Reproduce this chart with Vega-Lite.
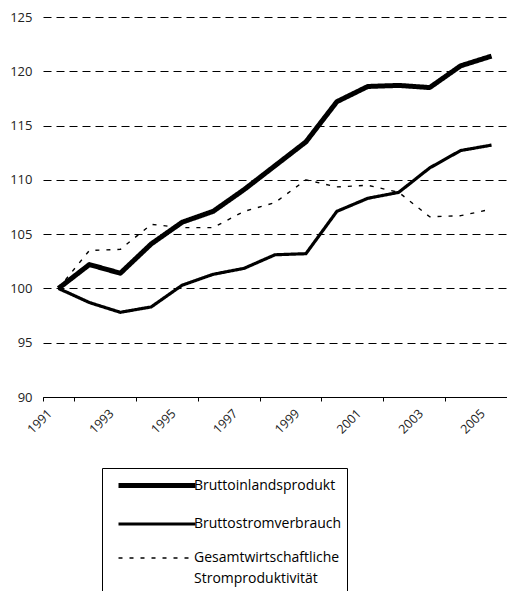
{
  "$schema": "https://vega.github.io/schema/vega-lite/v6.json",
  "autosize": {"type": "none"},
  "padding": {"left": 43, "top": 17, "right": 0, "bottom": 194},
  "width": 464,
  "height": 380,
  "background": "white",
  "config": {
    "view": {"stroke": null},
    "font": "Open Sans",
    "axis": {"labelFont": "Open Sans", "labelColor": "#222", "labelFontSize": 13},
    "legend": {
      "title": null,
      "orient": "none",
      "legendX": 59,
      "legendY": 451,
      "direction": "vertical",
      "strokeColor": "black",
      "fillColor": "white",
      "padding": 5,
      "symbolType": "M-0.1,0H7.6",
      "symbolSize": 400,
      "symbolStrokeColor": "black",
      "symbolFillColor": "transparent",
      "labelFont": "Open Sans",
      "labelFontSize": 14,
      "labelColor": "black",
      "labelOffset": 62,
      "rowPadding": 16
    }
  },
  "data": {
    "values": [
      {"Jahr": "1991", "Reihe": "Bruttoinlandsprodukt", "Wert": 100},
      {"Jahr": "1992", "Reihe": "Bruttoinlandsprodukt", "Wert": 102.2},
      {"Jahr": "1993", "Reihe": "Bruttoinlandsprodukt", "Wert": 101.4},
      {"Jahr": "1994", "Reihe": "Bruttoinlandsprodukt", "Wert": 104.1},
      {"Jahr": "1995", "Reihe": "Bruttoinlandsprodukt", "Wert": 106.1},
      {"Jahr": "1996", "Reihe": "Bruttoinlandsprodukt", "Wert": 107.1},
      {"Jahr": "1997", "Reihe": "Bruttoinlandsprodukt", "Wert": 109.1},
      {"Jahr": "1998", "Reihe": "Bruttoinlandsprodukt", "Wert": 111.3},
      {"Jahr": "1999", "Reihe": "Bruttoinlandsprodukt", "Wert": 113.5},
      {"Jahr": "2000", "Reihe": "Bruttoinlandsprodukt", "Wert": 117.2},
      {"Jahr": "2001", "Reihe": "Bruttoinlandsprodukt", "Wert": 118.6},
      {"Jahr": "2002", "Reihe": "Bruttoinlandsprodukt", "Wert": 118.7},
      {"Jahr": "2003", "Reihe": "Bruttoinlandsprodukt", "Wert": 118.5},
      {"Jahr": "2004", "Reihe": "Bruttoinlandsprodukt", "Wert": 120.5},
      {"Jahr": "2005", "Reihe": "Bruttoinlandsprodukt", "Wert": 121.4},
      {"Jahr": "1991", "Reihe": "Bruttostromverbrauch", "Wert": 100},
      {"Jahr": "1992", "Reihe": "Bruttostromverbrauch", "Wert": 98.7},
      {"Jahr": "1993", "Reihe": "Bruttostromverbrauch", "Wert": 97.8},
      {"Jahr": "1994", "Reihe": "Bruttostromverbrauch", "Wert": 98.3},
      {"Jahr": "1995", "Reihe": "Bruttostromverbrauch", "Wert": 100.3},
      {"Jahr": "1996", "Reihe": "Bruttostromverbrauch", "Wert": 101.3},
      {"Jahr": "1997", "Reihe": "Bruttostromverbrauch", "Wert": 101.85},
      {"Jahr": "1998", "Reihe": "Bruttostromverbrauch", "Wert": 103.1},
      {"Jahr": "1999", "Reihe": "Bruttostromverbrauch", "Wert": 103.2},
      {"Jahr": "2000", "Reihe": "Bruttostromverbrauch", "Wert": 107.1},
      {"Jahr": "2001", "Reihe": "Bruttostromverbrauch", "Wert": 108.3},
      {"Jahr": "2002", "Reihe": "Bruttostromverbrauch", "Wert": 108.85},
      {"Jahr": "2003", "Reihe": "Bruttostromverbrauch", "Wert": 111.1},
      {"Jahr": "2004", "Reihe": "Bruttostromverbrauch", "Wert": 112.7},
      {"Jahr": "2005", "Reihe": "Bruttostromverbrauch", "Wert": 113.2},
      {"Jahr": "1991", "Reihe": "Gesamtwirtschaftliche Stromproduktivität", "Wert": 100},
      {"Jahr": "1992", "Reihe": "Gesamtwirtschaftliche Stromproduktivität", "Wert": 103.5},
      {"Jahr": "1993", "Reihe": "Gesamtwirtschaftliche Stromproduktivität", "Wert": 103.6},
      {"Jahr": "1994", "Reihe": "Gesamtwirtschaftliche Stromproduktivität", "Wert": 105.9},
      {"Jahr": "1995", "Reihe": "Gesamtwirtschaftliche Stromproduktivität", "Wert": 105.6},
      {"Jahr": "1996", "Reihe": "Gesamtwirtschaftliche Stromproduktivität", "Wert": 105.6},
      {"Jahr": "1997", "Reihe": "Gesamtwirtschaftliche Stromproduktivität", "Wert": 107.1},
      {"Jahr": "1998", "Reihe": "Gesamtwirtschaftliche Stromproduktivität", "Wert": 107.9},
      {"Jahr": "1999", "Reihe": "Gesamtwirtschaftliche Stromproduktivität", "Wert": 110.0},
      {"Jahr": "2000", "Reihe": "Gesamtwirtschaftliche Stromproduktivität", "Wert": 109.35},
      {"Jahr": "2001", "Reihe": "Gesamtwirtschaftliche Stromproduktivität", "Wert": 109.5},
      {"Jahr": "2002", "Reihe": "Gesamtwirtschaftliche Stromproduktivität", "Wert": 108.85},
      {"Jahr": "2003", "Reihe": "Gesamtwirtschaftliche Stromproduktivität", "Wert": 106.6},
      {"Jahr": "2004", "Reihe": "Gesamtwirtschaftliche Stromproduktivität", "Wert": 106.7},
      {"Jahr": "2005", "Reihe": "Gesamtwirtschaftliche Stromproduktivität", "Wert": 107.3}
    ]
  },
  "mark": {"type": "line", "color": "black", "strokeJoin": "round"},
  "encoding": {
    "x": {
      "field": "Jahr",
      "type": "ordinal",
      "scale": {"type": "band", "paddingInner": 0, "paddingOuter": 0},
      "axis": {
        "title": null,
        "values": ["1991", "1993", "1995", "1997", "1999", "2001", "2003", "2005"],
        "tickBand": "extent",
        "labelAngle": -45,
        "labelAlign": "right",
        "labelBaseline": "middle",
        "labelOffset": -9,
        "labelPadding": 10,
        "labelFontSize": 12.5,
        "tickColor": "black",
        "tickSize": 4,
        "domainColor": "black",
        "domainWidth": 1.2,
        "grid": false
      }
    },
    "y": {
      "field": "Wert",
      "type": "quantitative",
      "scale": {"domain": [90, 125], "nice": false, "zero": false},
      "axis": {
        "title": null,
        "values": [90, 95, 100, 105, 110, 115, 120, 125],
        "domain": false,
        "ticks": false,
        "labelPadding": 11,
        "grid": true,
        "gridColor": "black",
        "gridDash": [8, 5],
        "gridWidth": 1
      }
    },
    "strokeWidth": {
      "field": "Reihe",
      "type": "nominal",
      "scale": {
        "domain": ["Bruttoinlandsprodukt", "Bruttostromverbrauch", "Gesamtwirtschaftliche Stromproduktivität"],
        "range": [5, 1.4, 3]
      },
      "legend": {
        "labelExpr": "datum.label == 'Gesamtwirtschaftliche Stromproduktivität' ? ['Gesamtwirtschaftliche\u00a0\u00a0\u00a0\u00a0\u00a0\u00a0\u00a0', 'Stromproduktivität'] : datum.label",
        "encode": {
          "labels": {"update": {"lineHeight": {"value": 21}}}
        }
      }
    },
    "strokeDash": {
      "field": "Reihe",
      "type": "nominal",
      "scale": {
        "domain": ["Bruttoinlandsprodukt", "Bruttostromverbrauch", "Gesamtwirtschaftliche Stromproduktivität"],
        "range": [[1, 0], [1, 0], [4, 7]]
      },
      "legend": {
        "labelExpr": "datum.label == 'Gesamtwirtschaftliche Stromproduktivität' ? ['Gesamtwirtschaftliche\u00a0\u00a0\u00a0\u00a0\u00a0\u00a0\u00a0', 'Stromproduktivität'] : datum.label",
        "encode": {
          "labels": {"update": {"lineHeight": {"value": 21}}}
        }
      }
    }
  }
}
